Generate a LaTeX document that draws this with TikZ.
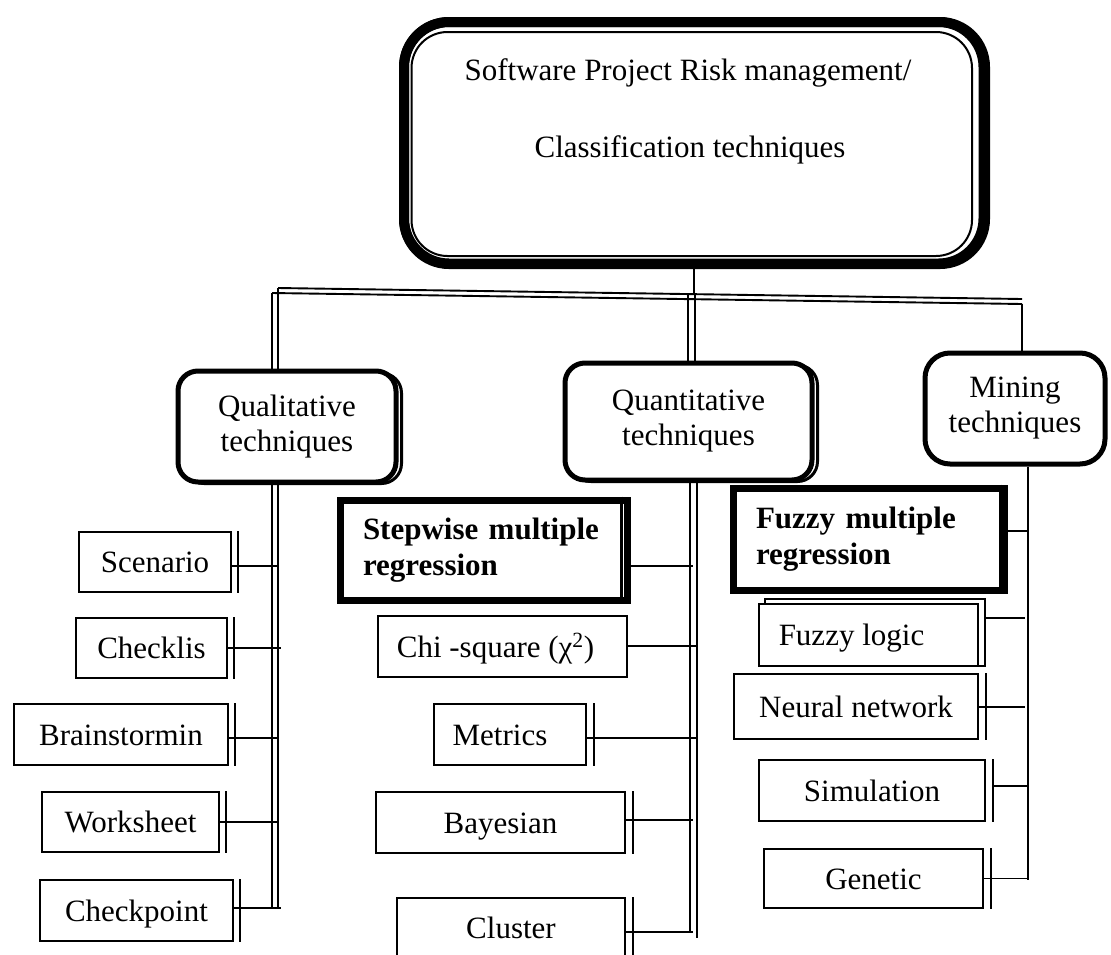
\documentclass[tikz,border=0pt]{standalone}
\usepackage{fontspec}
\setmainfont{Liberation Serif}
\begin{document}
\begin{tikzpicture}[x=1pt,y=-1pt,
  every node/.style={font=\fontsize{31}{35}\selectfont},
  ln/.style={line width=1.9pt},
  sbox/.style={draw, line width=1.9pt, fill=white, inner sep=0pt, text height=21pt, text depth=0pt},
  rbox/.style={draw, line width=5pt, fill=white, rounded corners=20pt, align=center, inner sep=0pt},
  shad/.style={line width=3pt, rounded corners=20pt},
  bbox/.style={draw, line width=7pt, fill=white, inner xsep=23pt, inner ysep=0pt, align=left, font=\fontsize{31}{36}\selectfont\bfseries},
]
\useasboundingbox (0,0) rectangle (1111,954);

% ---------- top box ----------
\draw[line width=10pt, rounded corners=45pt] (404,22) rectangle (985,264);
\node[draw, line width=10pt, rounded corners=45pt, minimum width=579.5pt, minimum height=241.5pt, inner sep=0pt] (top) at (693.75,142.75) {};
\draw[line width=2pt, rounded corners=36pt] (411.5,32) rectangle (972,256);
\node[anchor=base] (t1) at (688,80) {Software Project Risk management/};
\node[anchor=base] (t2) at (690,157) {Classification techniques};

% ---------- second level (rounded) ----------
\draw[shad] (184,373) rectangle (401.5,483.5);
\node[rbox, minimum width=218pt, minimum height=111pt] (qual) at (287,426.5) {Qualitative\\techniques};
\draw[shad] (571,365) rectangle (817.5,481.5);
\node[rbox, minimum width=247pt, minimum height=117pt] (quant) at (688.5,421.5) {Quantitative\\techniques};
\node[rbox, rounded corners=25pt, minimum width=180pt, minimum height=111pt] (mine) at (1015,408.5) {Mining\\techniques};

% ---------- left column ----------
\node[sbox, minimum width=152pt, minimum height=60pt] (scen) at (155,562) {Scenario};
\node[sbox, minimum width=151pt, minimum height=60pt] (chkl) at (151.5,648) {Checklis};
\node[sbox, minimum width=214pt, minimum height=61pt] (brain) at (121,734.5) {Brainstormin};
\node[sbox, minimum width=177pt, minimum height=60pt] (work) at (130.5,822) {Worksheet};
\node[sbox, minimum width=193pt, minimum height=61pt] (chkp) at (136.5,910.5) {Checkpoint};
\foreach \n in {scen,chkl,brain,work,chkp}
  \draw[ln] ([xshift=6pt]\n.north east) -- ([xshift=6pt]\n.south east);

% ---------- middle column ----------
\node[bbox, text width=241pt, minimum height=100pt] (step) at (483.5,550) {Stepwise multiple\\regression};
\draw[line width=3pt] ([xshift=-9pt]step.north east) -- ([xshift=-9pt]step.south east);
\node[sbox, minimum width=249pt, minimum height=61pt] (chi) at (502.5,646.5) {\hspace*{-14pt}Chi -square (χ\textsuperscript{2})};
\node[sbox, minimum width=152pt, minimum height=61pt] (metr) at (510,734.5) {\hspace*{-20pt}Metrics};
\node[sbox, minimum width=249pt, minimum height=61pt] (bayes) at (500.5,822.5) {Bayesian};
\node[sbox, minimum width=228pt, minimum height=60pt] (clus) at (511,928) {Cluster};
\foreach \n in {metr,bayes,clus}
  \draw[ln] ([xshift=7pt]\n.north east) -- ([xshift=7pt]\n.south east);

% ---------- right column ----------
\node[bbox, text width=225pt, minimum height=102pt] (fmr) at (868.5,539) {Fuzzy multiple\\regression};
\draw[line width=3pt] ([xshift=-7pt]fmr.north east) -- ([xshift=-7pt]fmr.south east);
\draw[ln] (765,666) -- (765,599) -- (985,599) -- (985,666) -- cycle;
\node[sbox, minimum width=219pt, minimum height=62pt] (flog) at (868.5,635) {\hspace*{-34pt}Fuzzy logic};
\node[sbox, minimum width=244pt, minimum height=65pt] (neur) at (856,706.5) {Neural network};
\node[sbox, minimum width=226pt, minimum height=61pt] (sim) at (872,790.5) {Simulation};
\node[sbox, minimum width=219pt, minimum height=59pt] (gen) at (873.5,878.5) {Genetic};
\foreach \n in {neur,sim,gen}
  \draw[ln] ([xshift=7pt]\n.north east) -- ([xshift=7pt]\n.south east);

% ---------- trunk coordinates ----------
\coordinate (b1L) at (278,288);
\coordinate (b1R) at (1022,299);
\coordinate (b2L) at (272,293);
\coordinate (b2R) at (1022,304);
\coordinate (stemB) at (694,294.2);
\coordinate (qa1) at (688,294.3);
\coordinate (qa2) at (695,294.4);
\coordinate (ql1E) at (278,908);
\coordinate (ql2E) at (272,908);
\coordinate (m1E) at (690,932);
\coordinate (m2E) at (697,938);
\coordinate (mnE) at (1028,880);

% ---------- bar and trunks ----------
\draw[ln] (b1L) -- (b1R);
\draw[ln] (b2L) -- (b2R);
\draw[ln] (top.south -| stemB) -- (stemB);
\draw[ln] (b1L) -- (b1L |- qual.north);
\draw[ln] (b2L) -- (b2L |- qual.north);
\draw[ln] (qual.south -| ql1E) -- (ql1E);
\draw[ln] (qual.south -| ql2E) -- (ql2E);
\draw[ln] (qa1) -- (qa1 |- quant.north);
\draw[ln] (qa2) -- (qa2 |- quant.north);
\draw[ln] (quant.south -| m1E) -- (m1E);
\draw[ln] (quant.south -| m2E) -- (m2E);
\draw[ln] (b2R) -- (b2R |- mine.north);
\draw[ln] (mine.south -| mnE) -- (mnE);

% ---------- connectors ----------
\draw[ln] ([yshift=-4pt]scen.east) -- ([yshift=-4pt]scen.east -| ql1E);
\draw[ln] (chkl.east) -- ([xshift=3pt]chkl.east -| ql1E);
\draw[ln] ([yshift=-3.5pt]brain.east) -- ([yshift=-3.5pt]brain.east -| ql1E);
\draw[ln] (work.east) -- (work.east -| ql1E);
\draw[ln] ([yshift=2.5pt]chkp.east) -- ([yshift=2.5pt,xshift=3pt]chkp.east -| ql1E);

\draw[ln] ([yshift=-16pt]step.east) -- ([yshift=-16pt,xshift=3pt]step.east -| m1E);
\draw[ln] ([yshift=0.5pt]chi.east) -- ([yshift=0.5pt]chi.east -| m2E);
\draw[ln] ([yshift=-3.5pt]metr.east) -- ([yshift=-3.5pt]metr.east -| m2E);
\draw[ln] ([yshift=2.5pt]bayes.east) -- ([yshift=2.5pt,xshift=3pt]bayes.east -| m1E);
\draw[ln] ([yshift=-4pt]clus.east) -- ([yshift=-4pt,xshift=3pt]clus.east -| m1E);

\draw[ln] ([yshift=8pt]fmr.east) -- ([yshift=8pt]fmr.east -| mnE);
\draw[ln] ([yshift=17pt,xshift=7pt]flog.east) -- ([yshift=17pt,xshift=-3pt]flog.east -| mnE);
\draw[ln] ([yshift=-0.5pt]neur.east) -- ([yshift=-0.5pt,xshift=-3pt]neur.east -| mnE);
\draw[ln] ([yshift=4.5pt,xshift=7pt]sim.east) -- ([yshift=4.5pt]sim.east -| mnE);
\draw[ln] (gen.east) -- (gen.east -| mnE);
\end{tikzpicture}
\end{document}
